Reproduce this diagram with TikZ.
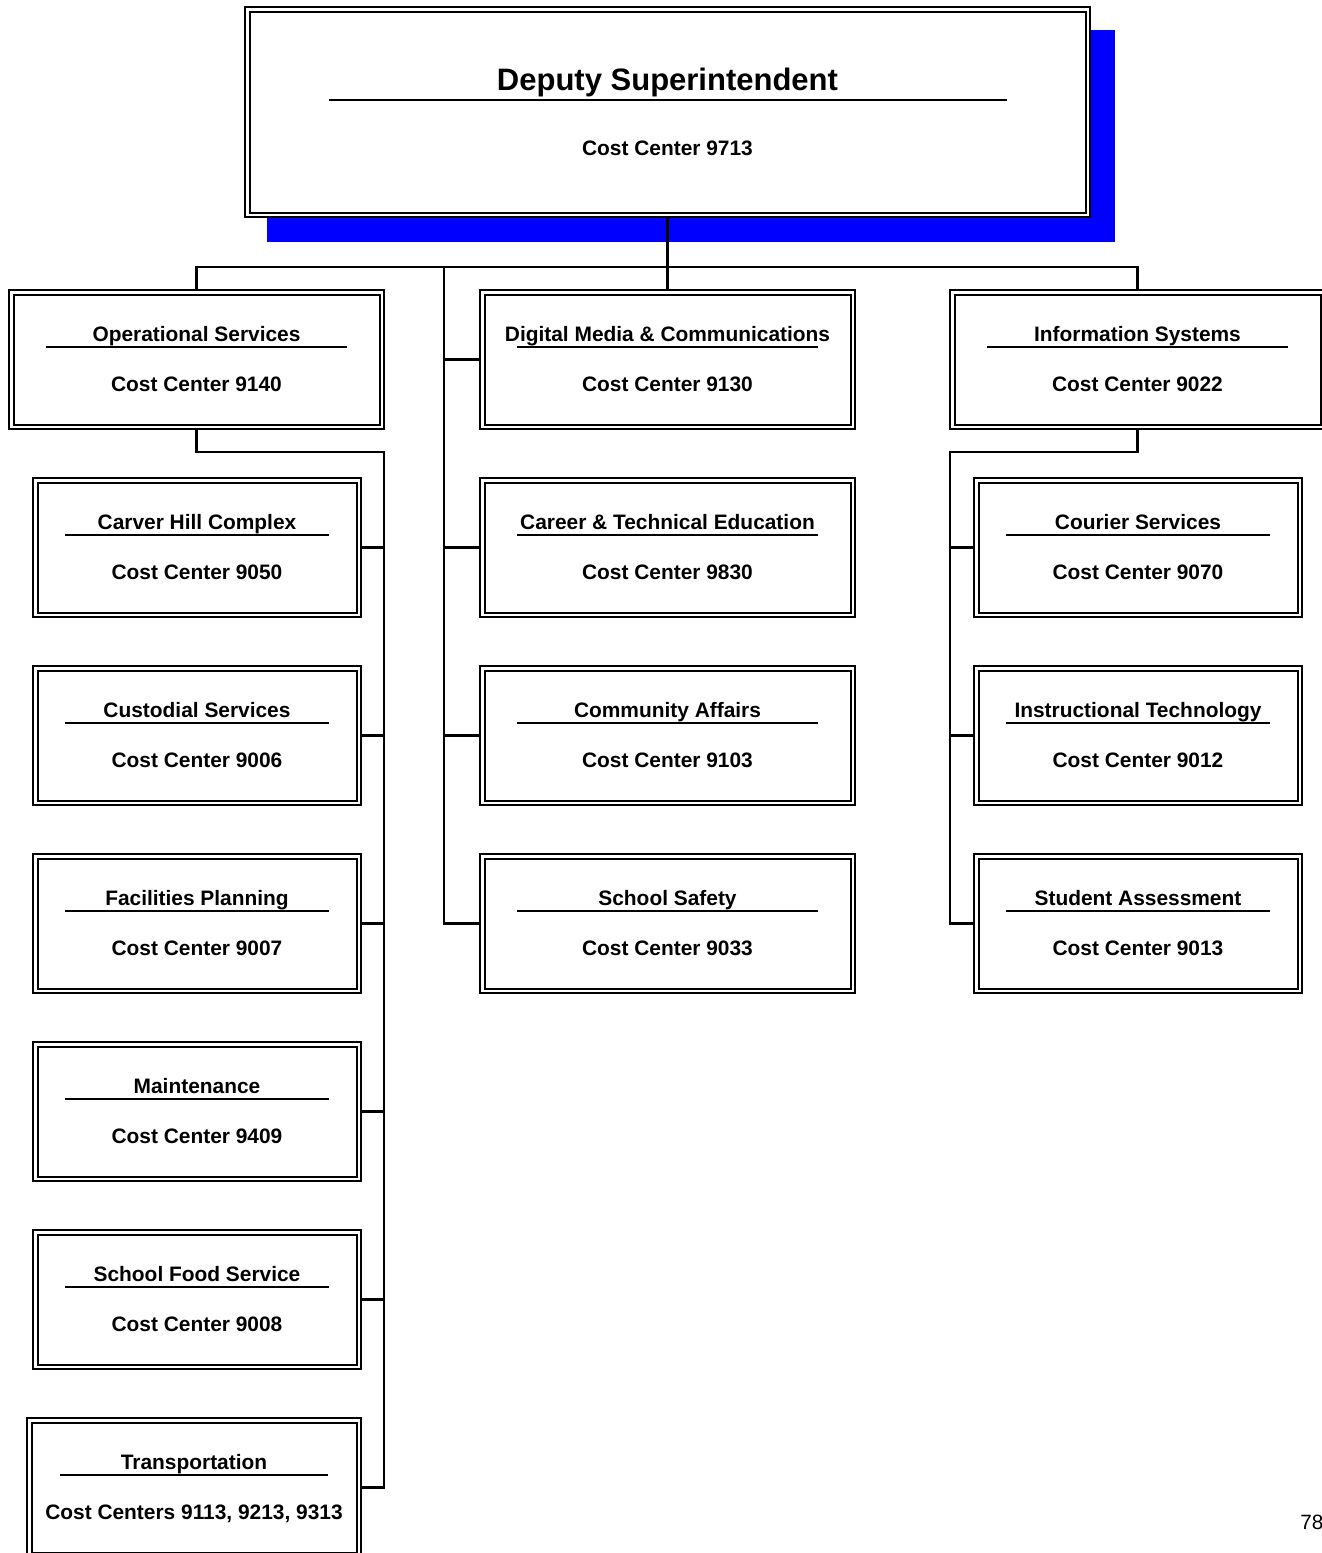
\documentclass[tikz,border=0pt]{standalone}
\usepackage{fontspec}
\setmainfont{Liberation Sans}
\usetikzlibrary{backgrounds}
\definecolor{shadowblue}{RGB}{0,0,255}
\tikzset{
  unitbox/.style={rectangle, draw=black, line width=1pt, double=white, double distance=1.25pt, fill=white, inner sep=0pt, outer sep=0pt},
  titletext/.style={font=\bfseries\fontsize{10.45pt}{12pt}\selectfont, inner sep=0pt, anchor=base},
  costtext/.style={font=\bfseries\fontsize{10.45pt}{12pt}\selectfont, inner sep=0pt, anchor=base},
  bigtitle/.style={font=\bfseries\fontsize{15.5pt}{18pt}\selectfont, inner sep=0pt, anchor=base},
  uline/.style={line width=0.8pt},
  conn/.style={line width=1.1pt},
}
% #1 name, #2 centre x, #3 outer top y, #4 width, #5 height, #6 title, #7 cost text
\newcommand\orgunit[7]{%
  \node[unitbox, minimum width={(#4-6.5)*0.5pt}, minimum height={(#5-6.5)*0.5pt}, anchor=north] (#1) at (#2,#3+3.25) {};
  \path (#1.north) ++(0,49) node[titletext] (#1-t) {#6};
  \pgfmathsetmacro\halfu{0.4*#4}%
  \pgfmathsetmacro\fullu{0.8*#4}%
  \draw[uline] (#1.north) ++(-\halfu,55) -- ++(\fullu,0);
  \path (#1.north) ++(0,99) node[costtext] (#1-c) {#7};
}
\begin{document}
\begin{tikzpicture}[x=0.5pt,y=-0.5pt]
\clip (0,0) rectangle (1322,1553);
% top unit
\node[unitbox, minimum width={(847-6.5)*0.5pt}, minimum height={(212-6.5)*0.5pt}, anchor=north] (dep) at (667.5,9.25) {};
\path (dep.north) ++(0,81) node[bigtitle] (dep-t) {Deputy Superintendent};
\draw[uline] (dep.north) ++(-339,91) -- ++(678,0);
\path (dep.north) ++(0,146) node[costtext] (dep-c) {Cost Center 9713};
% first row
\orgunit{ops}{196.5}{289}{377}{141}{Operational Services}{Cost Center 9140}
\orgunit{dmc}{667.5}{289}{377}{141}{Digital Media \& Communications}{Cost Center 9130}
\orgunit{info}{1137.5}{289}{377}{141}{Information Systems}{Cost Center 9022}
% left column
\orgunit{carver}{197}{477}{330}{141}{Carver Hill Complex}{Cost Center 9050}
\orgunit{cust}{197}{665}{330}{141}{Custodial Services}{Cost Center 9006}
\orgunit{fac}{197}{853}{330}{141}{Facilities Planning}{Cost Center 9007}
\orgunit{maint}{197}{1041}{330}{141}{Maintenance}{Cost Center 9409}
\orgunit{food}{197}{1229}{330}{141}{School Food Service}{Cost Center 9008}
\orgunit{trans}{194}{1417}{336}{141}{Transportation}{Cost Centers 9113, 9213, 9313}
% middle column
\orgunit{cte}{667.5}{477}{377}{141}{Career \& Technical Education}{Cost Center 9830}
\orgunit{comm}{667.5}{665}{377}{141}{Community Affairs}{Cost Center 9103}
\orgunit{safe}{667.5}{853}{377}{141}{School Safety}{Cost Center 9033}
% right column
\orgunit{courier}{1138}{477}{330}{141}{Courier Services}{Cost Center 9070}
\orgunit{instr}{1138}{665}{330}{141}{Instructional Technology}{Cost Center 9012}
\orgunit{assess}{1138}{853}{330}{141}{Student Assessment}{Cost Center 9013}
% page number
\node[font=\fontsize{10.35pt}{12pt}\selectfont, inner sep=0pt, anchor=base west] (pagenum) at (1300,1529) {78};
\begin{pgfonlayer}{background}
  \fill[shadowblue] (267,30) rectangle (1115,242);
  \coordinate (bus) at (667.5,267);
  \draw[conn] (dep.south) -- (dep.south |- bus);
  \draw[conn] (ops.north) |- (bus) -| (info.north);
  \draw[conn] (dmc.north) -- (dmc.north |- bus);
  % middle
  \coordinate (mbus) at (444,267);
  \draw[conn] (mbus) |- (safe.west);
  \draw[conn] (mbus |- dmc.west) -- (dmc.west);
  \draw[conn] (mbus |- cte.west) -- (cte.west);
  \draw[conn] (mbus |- comm.west) -- (comm.west);
  % left
  \coordinate (lbus) at (384,452);
  \draw[conn] (ops.south) |- (lbus) |- (trans.east);
  \draw[conn] (lbus |- carver.east) -- (carver.east);
  \draw[conn] (lbus |- cust.east) -- (cust.east);
  \draw[conn] (lbus |- fac.east) -- (fac.east);
  \draw[conn] (lbus |- maint.east) -- (maint.east);
  \draw[conn] (lbus |- food.east) -- (food.east);
  % right
  \coordinate (rbus) at (950,452);
  \draw[conn] (info.south) |- (rbus) |- (assess.west);
  \draw[conn] (rbus |- courier.west) -- (courier.west);
  \draw[conn] (rbus |- instr.west) -- (instr.west);
\end{pgfonlayer}
\end{tikzpicture}
\end{document}
